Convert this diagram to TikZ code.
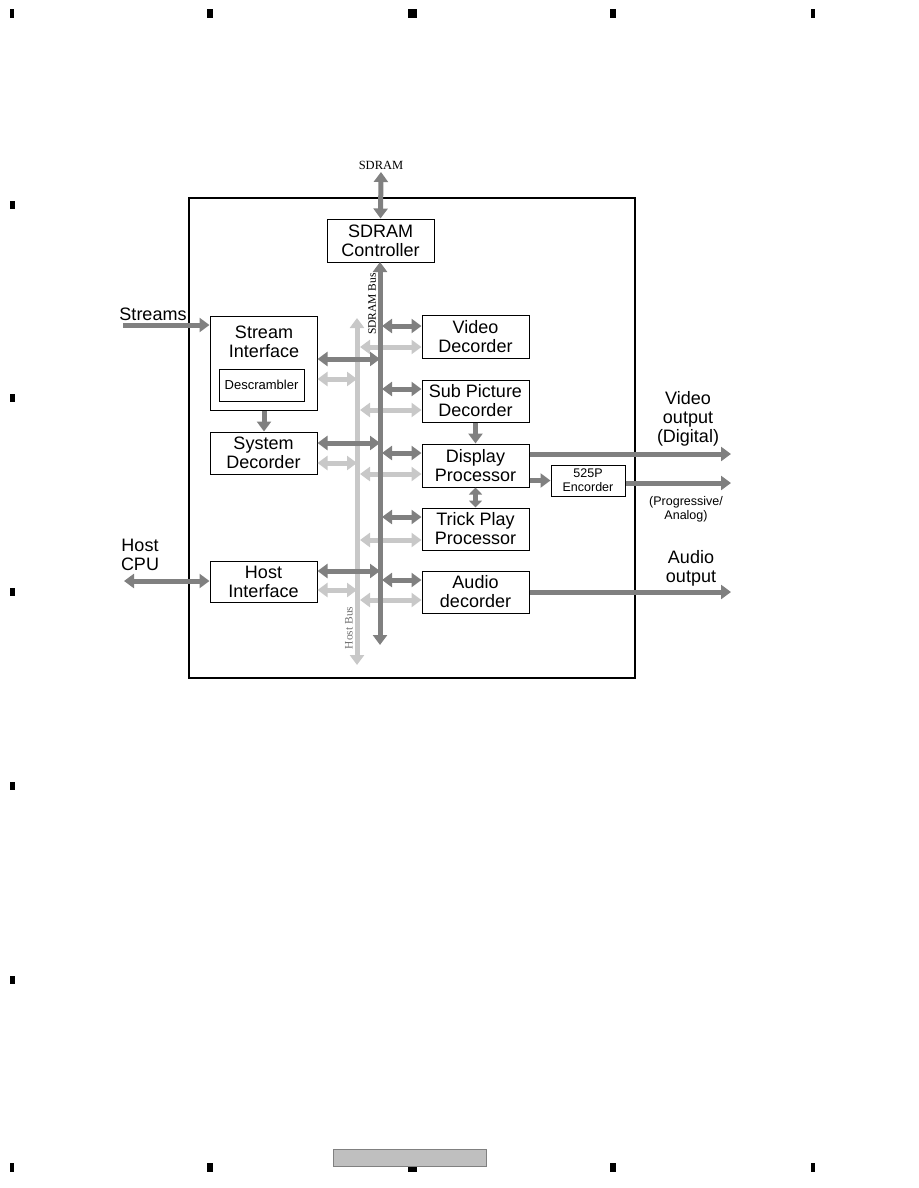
\documentclass[tikz,border=0pt]{standalone}
\usepackage{fontspec}
\setmainfont{Liberation Sans}
\newfontfamily\seriffont{Liberation Serif}
\usetikzlibrary{arrows.meta}
\definecolor{dkgray}{RGB}{128,128,128}
\definecolor{ltgray}{RGB}{200,200,200}
\begin{document}
\begin{tikzpicture}[x=1pt,y=-1pt,
  blk/.style={draw=black,line width=1pt,fill=white,inner sep=0pt,align=center,
    font=\fontsize{18}{19}\selectfont},
  txt/.style={inner sep=0pt,align=center,font=\fontsize{18}{19}\selectfont},
  small/.style={inner sep=0pt,align=center,font=\fontsize{12.5}{14.5}\selectfont},
  dk/.style={draw=dkgray,line width=5pt},
  lt/.style={draw=ltgray,line width=5pt},
  dkone/.style={dk,-{Triangle[length=10pt,width=14pt]}},
  dktwo/.style={dk,{Triangle[length=10pt,width=14pt]}-{Triangle[length=10pt,width=14pt]}},
  dkshort/.style={dk,{Triangle[length=7pt,width=13pt]}-{Triangle[length=7pt,width=13pt]}},
  lttwo/.style={lt,{Triangle[length=10pt,width=14pt]}-{Triangle[length=10pt,width=14pt]}}]
\useasboundingbox (0,0) rectangle (918,1188);
% registration marks
\foreach \x/\w in {12/4,210/6,412/9,613/6,813/4}{
  \fill[black] (\x-\w/2,9) rectangle (\x+\w/2,18);
  \fill[black] (\x-\w/2,1163) rectangle (\x+\w/2,1172);
}
\foreach \y in {205,398,592,786,980}{
  \fill[black] (10,\y-4) rectangle (15,\y+4);
}
\node[draw=gray,fill=black!25,minimum width=153pt,minimum height=17pt,inner sep=0pt] (footer) at (409.5,1157.5) {};
% frame
\node[draw=black,line width=2pt,minimum width=446pt,minimum height=480pt,inner sep=0pt] (frame) at (412,438) {};
% bus coordinates
\coordinate (sdtop) at (380,262);
\coordinate (sdbot) at (380,645);
\coordinate (hbtop) at (357,318);
\coordinate (hbbot) at (357,665);
% blocks
\node[blk,minimum width=107pt,minimum height=43pt] (ctrl) at (380.5,240.5) {SDRAM\\Controller};
\node[blk,minimum width=107pt,minimum height=94pt] (si) at (263.5,363) {};
\node[txt] (sitxt) at (264,341.5) {Stream\\Interface};
\node[draw=black,line width=1pt,minimum width=85pt,minimum height=32pt,inner sep=0pt,font=\fontsize{13}{14}\selectfont] (desc) at (261.5,385) {Descrambler};
\node[blk,minimum width=107pt,minimum height=42pt] (sd) at (263.5,453) {System\\Decorder};
\node[blk,minimum width=107pt,minimum height=41pt] (hi) at (263.5,581.5) {Host\\Interface};
\node[blk,minimum width=107pt,minimum height=43pt] (vd) at (475.5,336.5) {Video\\Decorder};
\node[blk,minimum width=107pt,minimum height=42pt] (sp) at (475.5,401) {Sub Picture\\Decorder};
\node[blk,minimum width=107pt,minimum height=43pt] (dp) at (475.5,465.5) {Display\\Processor};
\node[blk,minimum width=107pt,minimum height=42pt] (tp) at (475.5,529) {Trick Play\\Processor};
\node[blk,minimum width=107pt,minimum height=42pt] (ad) at (475.5,592) {Audio\\decorder};
\node[draw=black,line width=1pt,fill=white,minimum width=74pt,minimum height=31pt,inner sep=0pt,align=center,font=\fontsize{12.5}{14}\selectfont] (enc) at (588,480.5) {525P\\Encorder};
% outer labels
\node[inner sep=0pt,font=\seriffont\fontsize{12.5}{14}\selectfont] (sdram) at (381,165) {SDRAM};
\node[txt] (streams) at (153,314) {Streams};
\node[txt] (hostcpu) at (140,554.5) {Host\\CPU};
\node[txt] (vout) at (688,419) {Video\\output\\(Digital)};
\node[small] (pout) at (686,509.5) {(Progressive/\\Analog)};
\node[txt] (aout) at (691,568) {Audio\\output};
\coordinate (vend) at (731,454);
\coordinate (pend) at (731,483);
\coordinate (aend) at (731,592);
\coordinate (sin) at (123,325);
\coordinate (hin) at (124,581);
% light host bus and its arrows
\draw[lttwo] (hbtop) -- (hbbot);
\draw[lttwo] (si.east |- 0,379) -- (hbtop |- 0,379);
\draw[lttwo] (sd.east |- 0,463) -- (hbtop |- 0,463);
\draw[lttwo] (hi.east |- 0,590) -- (hbtop |- 0,590);
\draw[lttwo] (360,347) -- (vd.west |- 0,347);
\draw[lttwo] (360,410) -- (sp.west |- 0,410);
\draw[lttwo] (360,474) -- (dp.west |- 0,474);
\draw[lttwo] (360,540) -- (tp.west |- 0,540);
\draw[lttwo] (360,600) -- (ad.west |- 0,600);
\node[inner sep=0pt,rotate=90,text=black!55,font=\seriffont\fontsize{11.5}{13}\selectfont] (hblabel) at (349,628) {Host Bus};
% dark SDRAM bus and its arrows
\draw[dktwo] (sdtop) -- (sdbot);
\node[inner sep=0pt,rotate=90,font=\seriffont\fontsize{11.5}{13}\selectfont] (sdlabel) at (372,304) {SDRAM Bus};
\draw[dktwo] (sdram.south |- 0,172) -- (ctrl.north);
\draw[dktwo] (si.east |- 0,359) -- (sdtop |- 0,359);
\draw[dktwo] (sd.east |- 0,443) -- (sdtop |- 0,443);
\draw[dktwo] (hi.east |- 0,571) -- (sdtop |- 0,571);
\draw[dktwo] (382,326) -- (vd.west |- 0,326);
\draw[dktwo] (382,389) -- (sp.west |- 0,389);
\draw[dktwo] (382,453) -- (dp.west |- 0,453);
\draw[dktwo] (382,517) -- (tp.west |- 0,517);
\draw[dktwo] (382,580) -- (ad.west |- 0,580);
\draw[dkone] (si.south -| 264,0) -- (sd.north -| 264,0);
\draw[dkone] (sp.south) -- (dp.north);
\draw[dkshort] (dp.south) -- (tp.north);
\draw[dkone] (dp.east |- enc.west) -- (enc.west);
\draw[dkone] (dp.east |- vend) -- (vend);
\draw[dkone] (enc.east |- pend) -- (pend);
\draw[dkone] (ad.east) -- (aend);
\draw[dkone] (sin) -- (si.west |- sin);
\draw[dktwo] (hin) -- (hi.west |- hin);
\end{tikzpicture}
\end{document}
